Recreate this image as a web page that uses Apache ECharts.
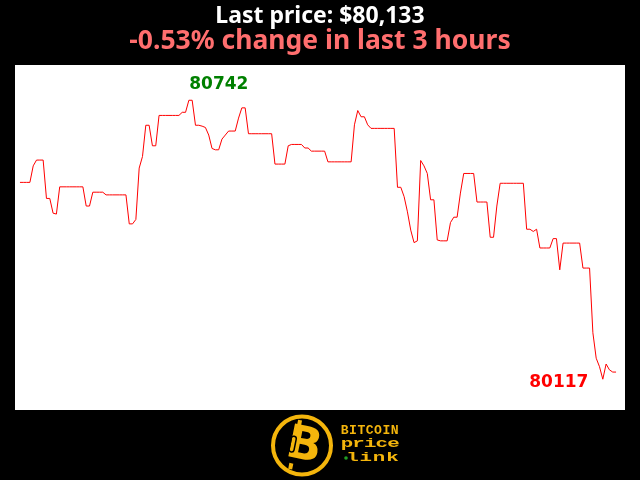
<!DOCTYPE html>
<html><head><meta charset="utf-8">
<script src="https://cdn.jsdelivr.net/npm/echarts@6/dist/echarts.min.js"></script>
<style>html,body{margin:0;padding:0;background:#000}#c{width:640px;height:480px}</style>
</head><body><div id="c"></div>
<script>
const titleText = 'Last price: $80,133';
const subtitleText = '-0.53% change in last 3 hours';
// one price per minute over the last 3 hours
const prices = [
80558,80558,80558,80558,80595,80608,80608,80608,80522,80522,
80489,80487,80548,80548,80548,80548,80548,80548,80548,80548,
80505,80505,80536,80536,80536,80536,80530,80530,80530,80530,
80530,80530,80530,80465,80465,80475,80590,80616,80686,80686,
80640,80640,80708,80708,80708,80708,80708,80708,80708,80715,
80715,80742,80742,80686,80686,80684,80681,80664,80634,80631,
80631,80655,80664,80673,80673,80673,80702,80725,80725,80667,
80667,80667,80667,80667,80667,80667,80667,80599,80599,80599,
80599,80640,80643,80643,80643,80643,80635,80635,80628,80628,
80628,80628,80628,80604,80604,80604,80604,80604,80604,80604,
80604,80687,80719,80705,80705,80687,80679,80679,80679,80679,
80679,80679,80679,80679,80547,80547,80526,80492,80451,80423,
80427,80607,80595,80578,80519,80519,80429,80427,80427,80427,
80468,80480,80480,80534,80578,80578,80578,80578,80514,80514,
80514,80514,80435,80435,80505,80556,80556,80556,80556,80556,
80556,80556,80556,80453,80453,80448,80453,80411,80411,80411,
80411,80432,80432,80362,80422,80422,80422,80422,80422,80422,
80366,80366,80366,80221,80164,80145,80117,80151,80138,80133,
80133
];
const maxLabel = '80742';
const minLabel = '80117';
const logoWords = ['BITCOIN', 'price', 'link'];

const minutes = prices.map((_, i) => i);
const seriesData = minutes.map((m, i) => [m, prices[i]]);

const chart = echarts.init(document.getElementById('c'), null, {renderer: 'canvas'});
const Y = '#f4b50c';

function spacedText(word, x0, pitch, baseline, size, sx) {
  return word.split('').map((ch, k) => ({
    type: 'text', x: x0 + k * pitch, y: baseline, scaleX: sx,
    style: {text: ch, fill: Y, font: 'bold ' + size + 'px "Liberation Mono"', textAlign: 'center', textVerticalAlign: 'bottom'}
  }));
}

const graphics = [
  {type: 'circle', shape: {cx: 302, cy: 445.5, r: 29}, style: {fill: '#000', stroke: Y, lineWidth: 4}},
  {type: 'group', x: 302, y: 446, rotation: -0.2, children: [
    {type: 'rect', shape: {x: -9, y: -25, width: 4, height: 6}, style: {fill: Y}},
    {type: 'rect', shape: {x: -9, y: 19, width: 4, height: 6}, style: {fill: Y}},
    {type: 'text', x: 2, y: 1, style: {text: 'B', fill: Y, font: 'bold 46px "DejaVu Sans"', textAlign: 'center', textVerticalAlign: 'middle'}},
    {type: 'rect', shape: {x: -12, y: -8, width: 5, height: 16, r: 2.5}, style: {fill: 'none', stroke: '#000', lineWidth: 1.5}}
  ]},
  {type: 'circle', shape: {cx: 346, cy: 458, r: 1.8}, style: {fill: '#22a022'}}
].concat(
  spacedText(logoWords[0], 344.7, 8.33, 437, 12.5, 1.05),
  spacedText(logoWords[1], 347, 11.6, 450, 13, 1.6),
  spacedText(logoWords[2], 352.5, 13.3, 464, 13, 1.6)
);

chart.setOption({
  backgroundColor: '#000',
  animation: false,
  title: [
    {text: titleText, left: 'center', top: 0,
     textStyle: {color: '#fff', fontFamily: 'Noto Sans', fontWeight: 'bold', fontSize: 23}},
    {text: subtitleText, left: 'center', top: 23,
     textStyle: {color: '#ff6e6e', fontFamily: 'Noto Sans', fontWeight: 'bold', fontSize: 26.5}}
  ],
  grid: {left: 15, right: 15, top: 65, bottom: 70, show: true, backgroundColor: '#fff', borderWidth: 0},
  xAxis: {type: 'value', min: -1.5, max: 182.7, show: false},
  yAxis: {type: 'value', min: 80048, max: 80821, show: false},
  series: [{
    type: 'line', data: seriesData, symbol: 'none',
    lineStyle: {color: '#ff0000', width: 1},
    markPoint: {
      symbol: 'circle', symbolSize: 0,
      data: [
        {type: 'max', label: {show: true, formatter: maxLabel, color: '#008000', fontSize: 17, fontWeight: 'bold',
          fontFamily: 'DejaVu Sans', offset: [30, -16]}},
        {type: 'min', label: {show: true, formatter: minLabel, color: '#ff0000', fontSize: 17, fontWeight: 'bold',
          fontFamily: 'DejaVu Sans', offset: [-44, 3]}}
      ]
    }
  }],
  graphic: graphics
});
</script></body></html>
